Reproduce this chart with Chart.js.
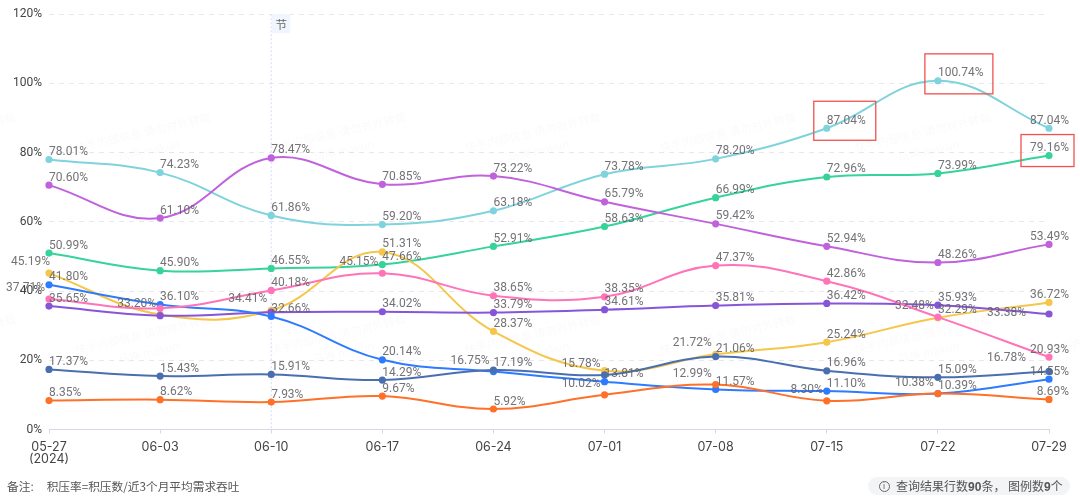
<!DOCTYPE html>
<html><head><meta charset="utf-8">
<style>
html,body{margin:0;padding:0;background:#fff;width:1080px;height:501px;overflow:hidden;font-family:"Noto Sans CJK SC",sans-serif}
#wrap{position:absolute;left:0;top:0;width:1080px;height:501px}
#note{position:absolute;left:7px;top:477px;font-size:11.7px;line-height:18px;color:#555;white-space:pre}
#note span{margin-left:13px}
#badge{position:absolute;left:868px;top:477px;width:202px;height:18px;border-radius:9px;background:#f3f4f6;color:#555;font-size:12px;line-height:18px;white-space:nowrap}
#badge i{position:absolute;left:10.5px;top:3.5px;width:9px;height:9px;border:1.2px solid #666;border-radius:50%;font:normal 9px/9px "Liberation Sans";text-align:center;color:#666}
#badge b{font-family:"Liberation Sans";font-weight:700}
#badge span{position:absolute;left:28px;top:0}
</style></head><body>
<div id="wrap"><canvas id="c" width="1080" height="501"></canvas></div>
<div id="note">备注:<span>积压率=积压数/近3个月平均需求吞吐</span></div>
<div id="badge"><i>i</i><span>查询结果行数<b>90</b>条， 图例数<b>9</b>个</span></div>
<script src="https://cdn.jsdelivr.net/npm/chart.js@4"></script>
<script>
const categories=[['05-27','(2024)'],'06-03','06-10','06-17','06-24','07-01','07-08','07-15','07-22','07-29'];
const yTicks=[0,20,40,60,80,100,120];
const holidayMark='节';
const holidayIndex=2;
const teal=[78.01,74.23,61.86,59.20,63.18,73.78,78.20,87.04,100.74,87.04];
const green=[50.99,45.90,46.55,47.66,52.91,58.63,66.99,72.96,73.99,79.16];
const orchid=[70.60,61.10,78.47,70.85,73.22,65.79,59.42,52.94,48.26,53.49];
const yellow=[45.19,33.20,34.41,51.31,28.37,17.0,21.72,25.24,32.29,36.72];
const blue=[41.80,36.10,32.66,20.14,16.75,13.81,11.57,11.10,10.39,14.55];
const orange=[8.35,8.62,7.93,9.67,5.92,10.02,12.99,8.30,10.38,8.69];
const pink=[37.71,35.0,40.18,45.15,38.65,38.35,47.37,42.86,32.48,20.93];
const violet=[35.65,32.9,33.9,34.02,33.79,34.61,35.81,36.42,35.93,33.38];
const slate=[17.37,15.43,15.91,14.29,17.19,15.78,21.06,16.96,15.09,16.78];
const watermarkLines=['快手内部信息 请勿对外转载','马坤 makun'];

const series=[
 {data:orange,color:'#ff7029',sides:'rrrrrllllr'},
 {data:pink,color:'#ff73b8',sides:'lxrlrrrrlr'},
 {data:slate,color:'#4a6fb0',sides:'rrrrrlrrrL'},
 {data:blue,color:'#2f7bff',sides:'rrrrlrrrrr'},
 {data:violet,color:'#8755d8',sides:'rxxrrrrrrL'},
 {data:yellow,color:'#f5c64a',sides:'lllrrxlrrr'},
 {data:orchid,color:'#c062dc',sides:'rrrrrrrrrr'},
 {data:green,color:'#36d39b',sides:'rrrrrrrrrr'},
 {data:teal,color:'#7fd3dc',sides:'rrrrrrrrrr'}
];
const boxes=[
 {i:7,v:87.04,l:-13,t:-27,w:62,h:39},
 {i:8,v:100.74,l:-13,t:-27,w:68,h:40},
 {i:9,v:79.16,l:-28,t:-21,w:53,h:32}
];
const LABEL_FONT='12px "Roboto","Liberation Sans",sans-serif';

const decor={
 id:'decor',
 beforeDatasetsDraw(ch){
  const {ctx,scales:{x,y},chartArea:a}=ch;
  ctx.save();
  // watermark
  ctx.fillStyle='rgba(150,150,160,0.045)';
  ctx.textAlign='left';ctx.textBaseline='middle';
  [148,350].forEach(py=>{
   for(let k=-1;k<6;k++){
    ctx.save();ctx.translate(75+k*195,py);ctx.rotate(-13*Math.PI/180);
    ctx.font='11.4px "Noto Sans CJK SC"';
    ctx.fillText(watermarkLines[0],0,0);
    ctx.fillText(watermarkLines[1],40,19);
    ctx.restore();
   }
  });
  // holiday marker
  const hx=x.getPixelForValue(holidayIndex);
  ctx.strokeStyle='#cfdcff';ctx.lineWidth=1;ctx.setLineDash([2,2]);
  ctx.beginPath();ctx.moveTo(hx,a.top);ctx.lineTo(hx,a.bottom);ctx.stroke();
  ctx.setLineDash([]);
  ctx.fillStyle='#f1f5ff';ctx.fillRect(hx+0.5,a.top,18.5,19);
  ctx.fillStyle='#666';ctx.font='11.5px "Noto Sans CJK SC"';ctx.textAlign='center';
  ctx.fillText(holidayMark,hx+10,a.top+10);
  ctx.restore();
 },
 afterDatasetsDraw(ch){
  const {ctx,scales:{x,y}}=ch;
  ctx.save();
  ctx.font=LABEL_FONT;ctx.fillStyle='rgba(95,95,100,0.88)';ctx.textBaseline='middle';
  series.forEach(s=>{
   s.data.forEach((v,i)=>{
    const side=s.sides[i];
    if(side==='x')return;
    const t=v.toFixed(2)+'%';
    const w=ctx.measureText(t).width;
    let px=x.getPixelForValue(i),py=y.getPixelForValue(v),tx,ty;
    if(side==='r'){tx=Math.min(px,1069-w);ty=py-7.5;}
    else if(side==='l'){tx=px-4-w;ty=py-11;if(i===0&&s.data===yellow)tx+=5;}
    else {tx=px-23-w;ty=py-(s.data===violet?1:13);}
    ctx.textAlign='left';
    ctx.fillText(t,tx,ty);
   });
  });
  ctx.strokeStyle='#f0524f';ctx.lineWidth=1.3;
  boxes.forEach(b=>{
   const px=x.getPixelForValue(b.i),py=y.getPixelForValue(b.v);
   ctx.strokeRect(px+b.l,py+b.t,b.w,b.h);
  });
  ctx.restore();
 }
};

new Chart(document.getElementById('c'),{
 type:'line',
 data:{labels:categories,datasets:series.map(s=>({
   data:s.data,borderColor:s.color,backgroundColor:s.color,
   pointBackgroundColor:s.color,pointBorderColor:s.color,
   borderWidth:2,pointRadius:2.6,pointHoverRadius:2.6,tension:0.4,fill:false,clip:false
 }))},
 options:{
  responsive:false,animation:false,devicePixelRatio:1,
  layout:{padding:{left:0,right:31,top:14,bottom:0}},
  plugins:{legend:{display:false},tooltip:{enabled:false}},
  scales:{
   x:{
    offset:false,
    grid:{display:true,drawOnChartArea:false,drawTicks:true,tickLength:4,color:'#d6d9e4'},
    border:{color:'#d6d9e4'},
    ticks:{autoSkip:false,maxRotation:0,minRotation:0,padding:8,color:'#444',font:{size:12.5,family:'"Inter","Liberation Sans",sans-serif',lineHeight:0.96}},
    afterFit(s){s.height=71.5;}
   },
   y:{
    min:0,max:120,
    afterBuildTicks(s){s.ticks=yTicks.map(v=>({value:v}));},
    grid:{color:c=>c.tick.value===0?'rgba(0,0,0,0)':'#e6e8ee',drawTicks:false,lineWidth:1},
    border:{display:false,dash:[5,5]},
    ticks:{padding:7,color:'#444',font:{size:12,family:'"Roboto","Liberation Sans",sans-serif'},callback:v=>v+'%'},
    afterFit(s){s.width=49;}
   }
  }
 },
 plugins:[decor]
});
</script>
</body></html>
